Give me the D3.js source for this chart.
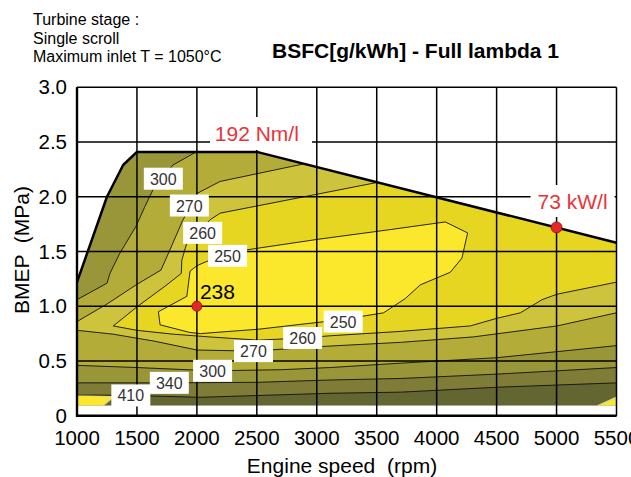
<!DOCTYPE html>
<html><head><meta charset="utf-8">
<script src="https://cdn.jsdelivr.net/npm/d3@7"></script>
<style>body{margin:0;background:#fff} svg text{font-family:"Liberation Sans",Arial,Helvetica,sans-serif;white-space:pre}</style>
</head><body><svg id="c" width="631" height="477"></svg>
<script>
// ---------- data ----------
const xTicks = [1000,1500,2000,2500,3000,3500,4000,4500,5000,5500];
const yTicks = [0,0.5,1.0,1.5,2.0,2.5,3.0];
const yTickLabels = ["0","0.5","1.0","1.5","2.0","2.5","3.0"];
const infoLines = ["Turbine stage :","Single scroll","Maximum inlet T = 1050°C"];
const chartTitle = "BSFC[g/kWh] - Full lambda 1";
const xTitle = "Engine speed  (rpm)";
const yTitle = "BMEP  (MPa)";
const bmepMin = 0.09;
// full load curve (rpm, MPa)
const fullLoad = [[1000,1.22],[1250,2.0],[1385,2.29],[1500,2.41],[2500,2.41],[5500,1.58]];
// iso-BSFC lines (rpm, MPa)
const iso410 = [[1000,0.19],[1449,0.185],[2027,0.168],[3112,0.205],[3700,0.215],[4503,0.26],[5500,0.30]];
const iso340 = [[1000,0.30],[1770,0.30],[2500,0.305],[3112,0.326],[3700,0.34],[4503,0.38],[5500,0.44]];
const iso300Low = [[1000,0.46],[1500,0.44],[2131,0.41],[2700,0.42],[3112,0.44],[3700,0.48],[4503,0.53],[5500,0.64]];
const iso300High = [[1995,2.41],[1800,2.29],[1632,2.06],[1562,1.90],[1492,1.73],[1355,1.48],[1275,1.30],[1250,1.21],[1000,1.06]];
const iso270Low = [[1000,0.78],[1300,0.745],[1650,0.68],[2000,0.60],[2472,0.59],[3000,0.63],[3700,0.67],[4308,0.72],[5004,0.82],[5500,0.94]];
const iso270High = [[2890,2.30],[2194,2.14],[2000,2.03],[1880,1.78],[1757,1.47],[1700,1.33],[1500,1.20],[1250,1.02],[1000,0.86]];
const iso260Low = [[1303,0.82],[1500,0.78],[1800,0.745],[2100,0.72],[2513,0.69],[2882,0.71],[3112,0.73],[3696,0.77],[4280,0.82],[4503,0.89],[4698,0.94],[4879,1.06],[5004,1.11],[5500,1.22]];
const iso260High = [[3500,2.13],[2194,1.85],[2110,1.79],[1916,1.576],[1874,1.42],[1870,1.30],[1743,1.19],[1507,1.0],[1303,0.82]];
const iso250 = [[2000,1.37],[2083,1.41],[2417,1.515],[3000,1.61],[3613,1.70],[4072,1.77],[4258,1.67],[4211,1.44],[4113,1.31],[3863,1.195],[3738,1.07],[3557,0.94],[3390,0.91],[3070,0.86],[2513,0.79],[2029,0.75],[1943,0.76],[1693,0.83],[1679,0.95],[1916,1.09],[1943,1.32]];
const cornerLeft = [[1000,0.09],[1000,0.19],[1310,0.175],[1215,0.09]];
const cornerRight = [[5340,0.09],[5500,0.17],[5500,0.09]];
// contour labels: value, rpm, MPa
const isoLabels = [[300,1720,2.165],[270,1937,1.92],[260,2048,1.67],[250,2256,1.46],[250,3220,0.86],[260,2882,0.71],[270,2472,0.59],[300,2131,0.41],[340,1770,0.30],[410,1449,0.185]];
const minPoint = {rpm:2000, bmep:1.0, text:"238"};
const powerPoint = {rpm:5000, bmep:1.72, text:"73 kW/l"};
const torqueText = "192 Nm/l";

// ---------- styles ----------
const bandColors = {over410:"#636630", b340:"#7e7c36", b300:"#99963a", b270:"#b3ac38", b260:"#cdc33c", b250:"#e6d621", under250:"#fbe82d"};

const svg = d3.select("#c");
const x = d3.scaleLinear().domain([1000,5500]).range([77,616.5]);
const y = d3.scaleLinear().domain([0,3]).range([415.7,87.3]);
const line = d3.line().x(d=>x(d[0])).y(d=>y(d[1]));
const TOP = 3.6;

// clip to envelope
const env = fullLoad.concat([[5500,bmepMin],[1000,bmepMin]]);
svg.append("clipPath").attr("id","env").append("path").attr("d", line(env)+"Z");
const g = svg.append("g").attr("clip-path","url(#env)");

g.append("path").attr("d", line(env)+"Z").attr("fill", bandColors.over410);
const poly = (pts, col) => g.append("path").attr("d", line(pts)+"Z").attr("fill", col);
poly(iso410.concat([[5500,TOP],[1000,TOP]]), bandColors.b340);
poly(iso340.concat([[5500,TOP],[1000,TOP]]), bandColors.b300);
poly(iso300Low.concat([[5500,TOP],[iso300High[0][0],TOP]], iso300High), bandColors.b270);
poly(iso270Low.concat([[5500,TOP],[iso270High[0][0],TOP]], iso270High), bandColors.b260);
poly(iso260Low.concat([[5500,TOP],[iso260High[0][0],TOP]], iso260High), bandColors.b250);
poly(iso250, bandColors.under250);
poly(cornerLeft, bandColors.under250).attr("stroke","#d8d29a").attr("stroke-width",1.2);
poly(cornerRight, bandColors.under250).attr("stroke","#d8d29a").attr("stroke-width",1.2);

// iso lines
[iso410,iso340,iso300Low,iso300High,iso270Low,iso270High,iso260Low,iso260High].forEach(l=>{
  g.append("path").attr("d", line(l)).attr("fill","none").attr("stroke","#111").attr("stroke-width",0.9);
});
g.append("path").attr("d", line(iso250)+"Z").attr("fill","none").attr("stroke","#111").attr("stroke-width",0.9);

// grid
const grid = svg.append("g").attr("stroke","#000").attr("stroke-width",1.5);
xTicks.forEach(t=>grid.append("line").attr("x1",x(t)).attr("x2",x(t)).attr("y1",y(0)).attr("y2",y(3)));
yTicks.forEach(t=>grid.append("line").attr("y1",y(t)).attr("y2",y(t)).attr("x1",x(1000)).attr("x2",x(5500)));
// frame left & bottom
svg.append("line").attr("x1",x(1000)).attr("x2",x(1000)).attr("y1",y(0)+1).attr("y2",y(3)).attr("stroke","#000").attr("stroke-width",2.4);
svg.append("line").attr("x1",x(1000)-1).attr("x2",x(5500)).attr("y1",y(0)).attr("y2",y(0)).attr("stroke","#000").attr("stroke-width",2.4);

// full load line
svg.append("path").attr("d", line(fullLoad)).attr("fill","none").attr("stroke","#000").attr("stroke-width",2.5).attr("stroke-linejoin","round");

// contour labels
isoLabels.forEach(([v,r,b])=>{
  const cx=x(r), cy=y(b);
  svg.append("rect").attr("x",cx-19.5).attr("y",cy-11).attr("width",39).attr("height",22).attr("fill","#fff");
  svg.append("text").attr("x",cx).attr("y",cy+6).attr("text-anchor","middle").attr("font-size",16).attr("fill","#333").text(v);
});

// red annotations
svg.append("rect").attr("x",210).attr("y",117).attr("width",102).attr("height",33).attr("fill","#fff");
svg.append("text").attr("x",x(2500)).attr("y",141).attr("text-anchor","middle").attr("font-size",21).attr("fill","#e8333a").text(torqueText);
svg.append("rect").attr("x",x(powerPoint.rpm)-26).attr("y",185).attr("width",84).attr("height",32).attr("fill","#fff");
svg.append("text").attr("x",x(powerPoint.rpm)-19).attr("y",209).attr("font-size",21).attr("fill","#e8333a").text(powerPoint.text);
svg.append("circle").attr("cx",x(powerPoint.rpm)).attr("cy",y(powerPoint.bmep)).attr("r",5.5).attr("fill","#e5262b").attr("stroke","#7a1010").attr("stroke-width",0.8);
svg.append("circle").attr("cx",x(minPoint.rpm)).attr("cy",y(minPoint.bmep)).attr("r",5).attr("fill","#e5262b").attr("stroke","#7a1010").attr("stroke-width",0.8);
svg.append("text").attr("x",x(minPoint.rpm)+3).attr("y",y(minPoint.bmep)-7).attr("font-size",21).attr("fill","#000").text(minPoint.text);

// axes labels
xTicks.forEach(t=>svg.append("text").attr("x",x(t)).attr("y",445).attr("text-anchor","middle").attr("font-size",20.5).attr("fill","#000").text(t));
yTicks.forEach((t,i)=>svg.append("text").attr("x",67).attr("y",y(t)+7).attr("text-anchor","end").attr("font-size",20.5).attr("fill","#000").text(yTickLabels[i]));
svg.append("text").attr("x",342).attr("y",473).attr("text-anchor","middle").attr("font-size",21).text(xTitle);
svg.append("text").attr("transform","translate(29,250) rotate(-90)").attr("text-anchor","middle").attr("font-size",21).text(yTitle);
infoLines.forEach((t,i)=>svg.append("text").attr("x",33).attr("y",25+i*18.5).attr("font-size",16).text(t));
svg.append("text").attr("x",272).attr("y",58).attr("font-size",21).attr("font-weight","bold").text(chartTitle);
</script></body></html>
